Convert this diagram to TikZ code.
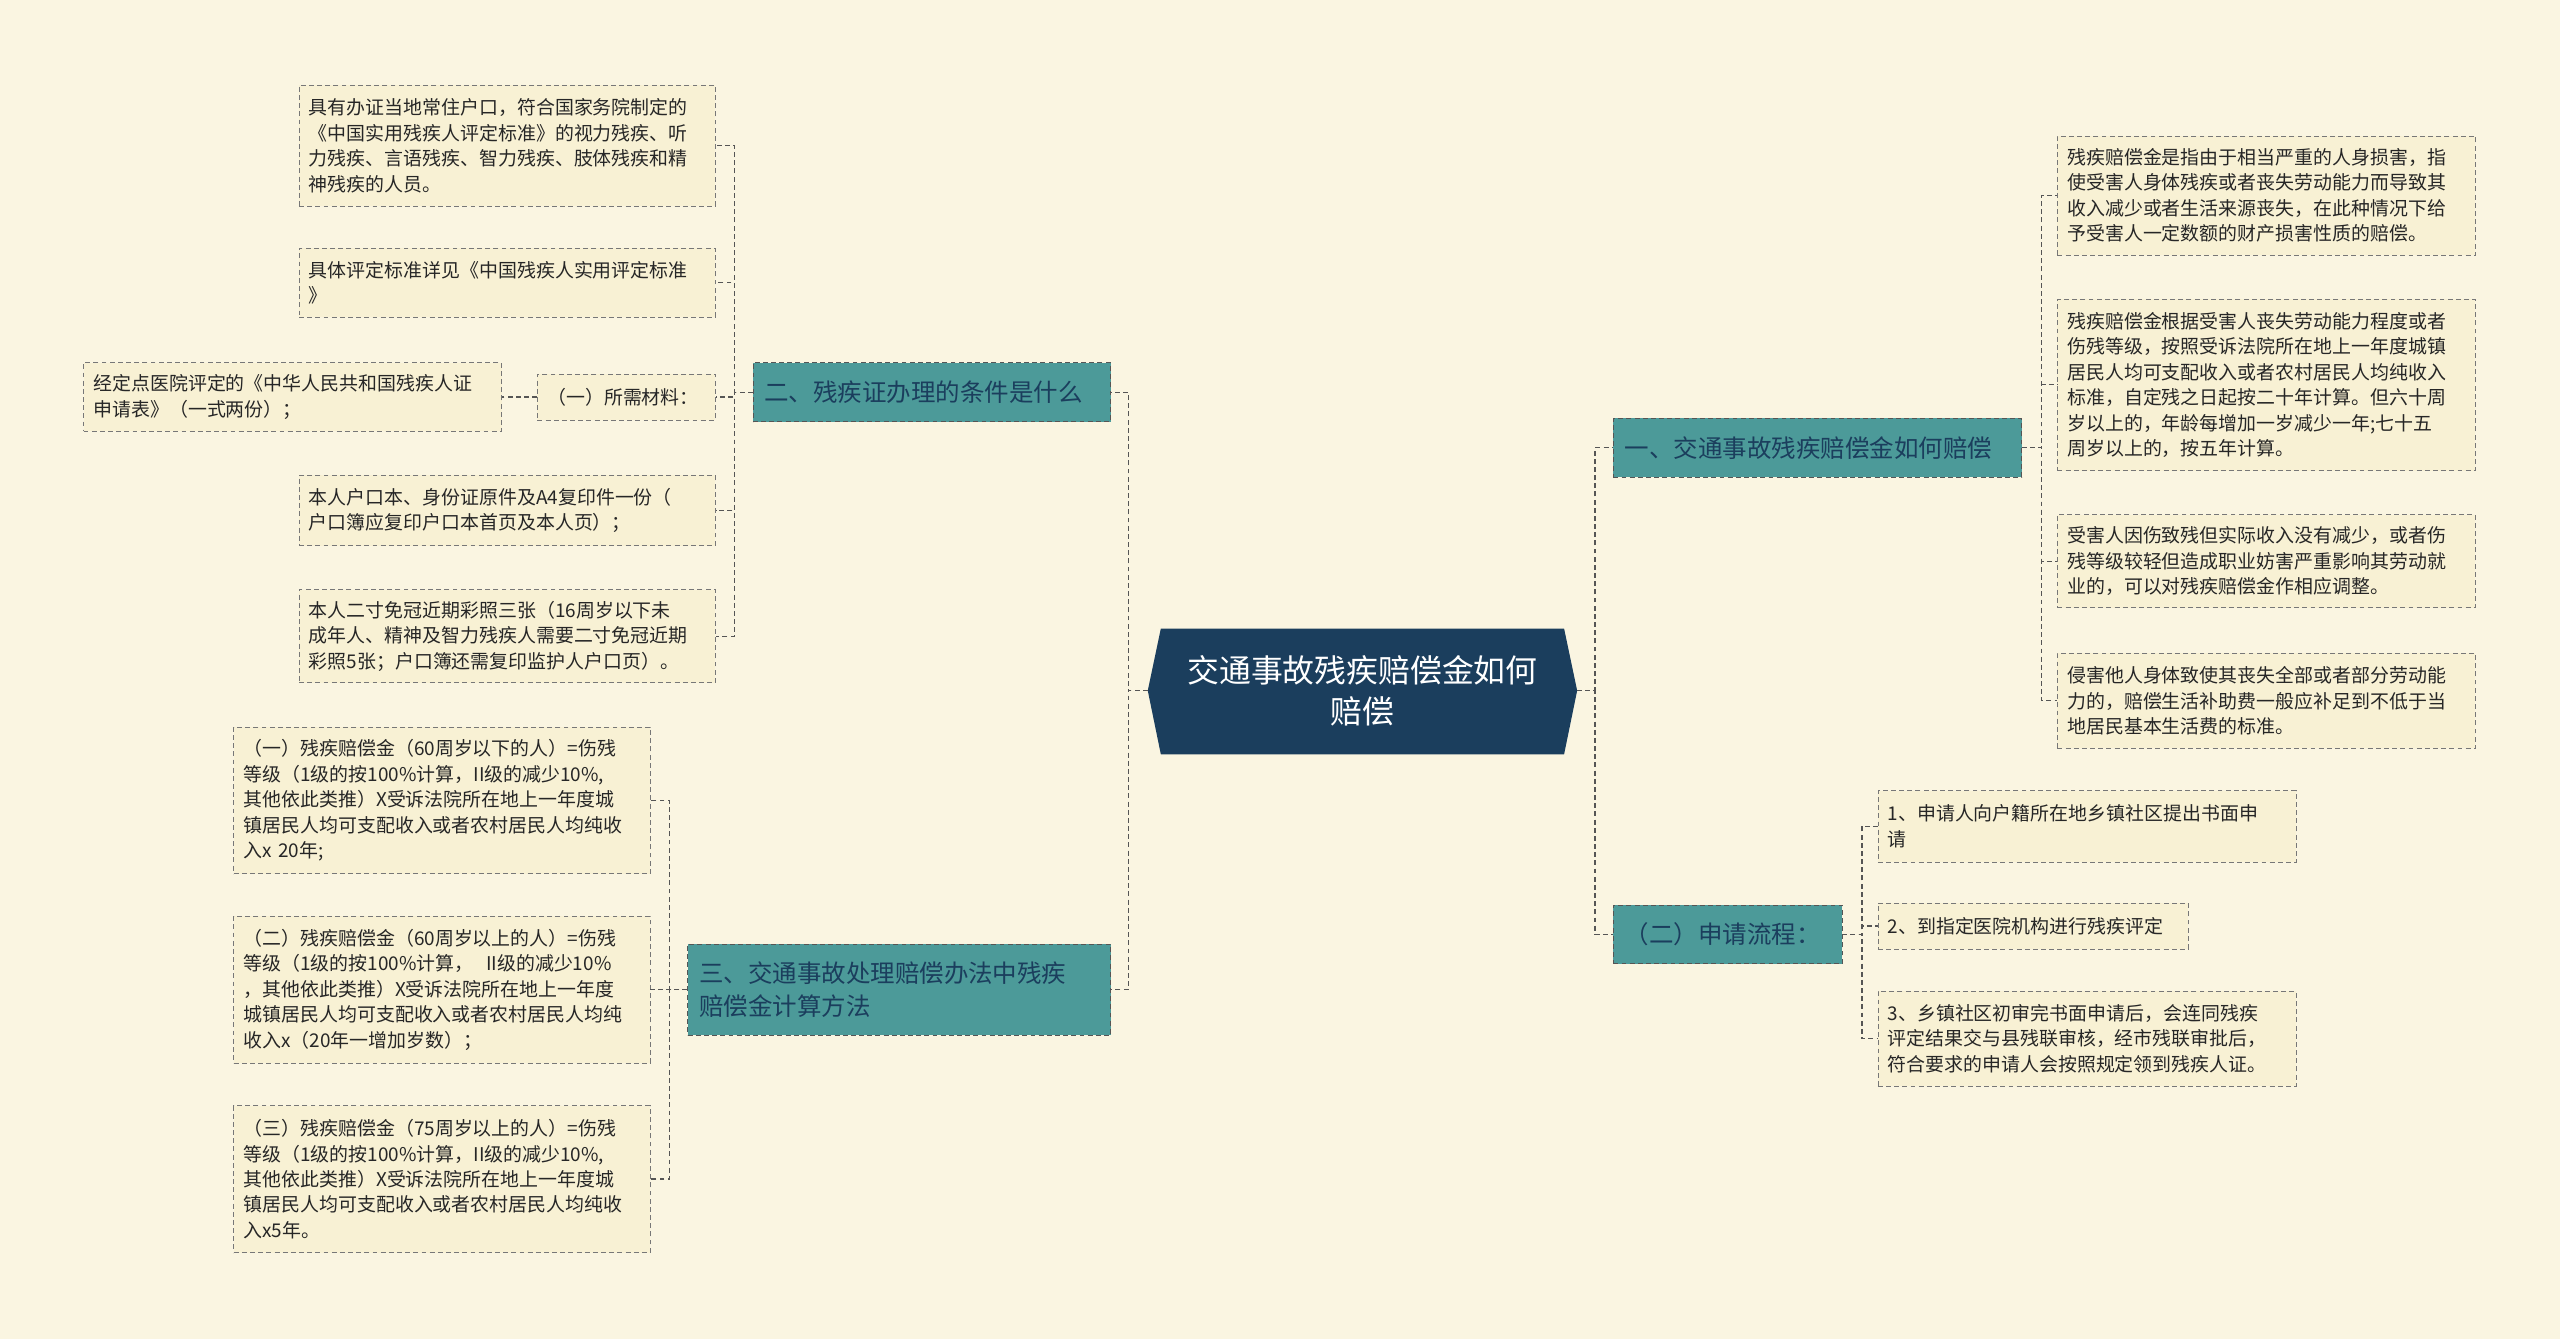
\documentclass[tikz,border=0pt]{standalone}
\usepackage{fontspec}
\setmainfont{Noto Sans CJK SC}
\definecolor{bg}{HTML}{FAF5E1}
\definecolor{leaffill}{HTML}{F8F1D4}
\definecolor{teal}{HTML}{4C9A99}
\definecolor{navy}{HTML}{1B3E5D}
\definecolor{line}{HTML}{555555}
\tikzset{
 leaf/.style={draw=line!80,dash pattern=on 3pt off 2pt,fill=leaffill,anchor=north west,align=left,inner xsep=6pt,inner ysep=3pt,font=\fontsize{11.6}{15.6}\selectfont,text=black!85,minimum width=#1pt,text width=\dimexpr#1pt-12pt\relax},
 branch/.style={draw=line,dash pattern=on 3pt off 2pt,fill=teal,anchor=north west,align=left,inner xsep=7pt,font=\fontsize{15}{20}\selectfont,text=navy,minimum width=#1pt,text width=\dimexpr#1pt-14pt\relax},
 conn/.style={draw=line,dash pattern=on 3pt off 2pt,line width=0.8pt},
}
\begin{document}
\begin{tikzpicture}[x=1pt,y=-1pt]
\fill[bg] (0,0) rectangle (1568,820);
\useasboundingbox (0,0) rectangle (1568,820);
% center
\fill[navy] (703,423)--(711,385)--(958,385)--(966,423)--(958,462)--(711,462)--cycle;
\node[text=white,align=center,font=\fontsize{19.5}{25}\selectfont] (cen) at (834.5,423) {交通事故残疾赔偿金如何\\赔偿};
\coordinate (cw) at (703,423); \coordinate (ce) at (966,423);
% branches
\node[branch=250,minimum height=36] (r1) at (988,256) {一、交通事故残疾赔偿金如何赔偿};
\node[branch=140,minimum height=36] (r2) at (988,554) {（二）申请流程：};
\node[branch=219,minimum height=36] (l1) at (461,222) {二、残疾证办理的条件是什么};
\node[branch=259,minimum height=56] (l2) at (421,578) {三、交通事故处理赔偿办法中残疾\\赔偿金计算方法};
% right leaves of r1
\node[leaf=256,minimum height=73] (a1) at (1260,83) {残疾赔偿金是指由于相当严重的人身损害，指\\使受害人身体残疾或者丧失劳动能力而导致其\\收入减少或者生活来源丧失，在此种情况下给\\予受害人一定数额的财产损害性质的赔偿。};
\node[leaf=256,minimum height=105] (a2) at (1260,183) {残疾赔偿金根据受害人丧失劳动能力程度或者\\伤残等级，按照受诉法院所在地上一年度城镇\\居民人均可支配收入或者农村居民人均纯收入\\标准，自定残之日起按二十年计算。但六十周\\岁以上的，年龄每增加一岁减少一年;七十五\\周岁以上的，按五年计算。};
\node[leaf=256,minimum height=57] (a3) at (1260,315) {受害人因伤致残但实际收入没有减少，或者伤\\残等级较轻但造成职业妨害严重影响其劳动就\\业的，可以对残疾赔偿金作相应调整。};
\node[leaf=256,minimum height=58] (a4) at (1260,400) {侵害他人身体致使其丧失全部或者部分劳动能\\力的，赔偿生活补助费一般应补足到不低于当\\地居民基本生活费的标准。};
% r2 leaves
\node[leaf=256,minimum height=44] (b1) at (1150,484) {1、申请人向户籍所在地乡镇社区提出书面申\\请};
\node[leaf=190,minimum height=28] (b2) at (1150,553) {2、到指定医院机构进行残疾评定};
\node[leaf=256,minimum height=58] (b3) at (1150,607) {3、乡镇社区初审完书面申请后，会连同残疾\\评定结果交与县残联审核，经市残联审批后，\\符合要求的申请人会按照规定领到残疾人证。};
% l1 leaves
\node[leaf=255,minimum height=74] (c1) at (183,52) {具有办证当地常住户口，符合国家务院制定的\\《中国实用残疾人评定标准》的视力残疾、听\\力残疾、言语残疾、智力残疾、肢体残疾和精\\神残疾的人员。};
\node[leaf=255,minimum height=42] (c2) at (183,152) {具体评定标准详见《中国残疾人实用评定标准\\》};
\node[leaf=109,minimum height=28] (c3) at (329,229) {（一）所需材料：};
\node[leaf=256,minimum height=42] (c3a) at (51,222) {经定点医院评定的《中华人民共和国残疾人证\\申请表》（一式两份）；};
\node[leaf=255,minimum height=43] (c4) at (183,291) {本人户口本、身份证原件及A4复印件一份（\\户口簿应复印户口本首页及本人页）；};
\node[leaf=255,minimum height=57] (c5) at (183,361) {本人二寸免冠近期彩照三张（16周岁以下未\\成年人、精神及智力残疾人需要二寸免冠近期\\彩照5张；户口簿还需复印监护人户口页）。};
% l2 leaves
\node[leaf=255,minimum height=90] (d1) at (143,445) {（一）残疾赔偿金（60周岁以下的人）=伤残\\等级（1级的按100\%计算，II级的减少10\%,\\其他依此类推）X受诉法院所在地上一年度城\\镇居民人均可支配收入或者农村居民人均纯收\\入x 20年;};
\node[leaf=255,minimum height=90] (d2) at (143,561) {（二）残疾赔偿金（60周岁以上的人）=伤残\\等级（1级的按100\%计算，\ \ II级的减少10\%\\，其他依此类推）X受诉法院所在地上一年度\\城镇居民人均可支配收入或者农村居民人均纯\\收入x（20年一增加岁数）；};
\node[leaf=255,minimum height=90] (d3) at (143,677) {（三）残疾赔偿金（75周岁以上的人）=伤残\\等级（1级的按100\%计算，II级的减少10\%,\\其他依此类推）X受诉法院所在地上一年度城\\镇居民人均可支配收入或者农村居民人均纯收\\入x5年。};
% connectors
\foreach \t in {r1,r2} \draw[conn] (ce) -- ++(11,0) |- (\t.west);
\foreach \t in {l1,l2} \draw[conn] (cw) -- ++(-12,0) |- (\t.east);
\foreach \t in {a1,a2,a3,a4} \draw[conn] (r1.east) -- ++(12,0) |- (\t.west);
\foreach \t in {b1,b2,b3} \draw[conn] (r2.east) -- ++(12,0) |- (\t.west);
\foreach \t in {c1,c2,c3,c4,c5} \draw[conn] (l1.west) -- ++(-11,0) |- (\t.east);
\draw[conn] (c3.west) -- (c3a.east);
\foreach \t in {d1,d2,d3} \draw[conn] (l2.west) -- ++(-11,0) |- (\t.east);
\end{tikzpicture}
\end{document}
